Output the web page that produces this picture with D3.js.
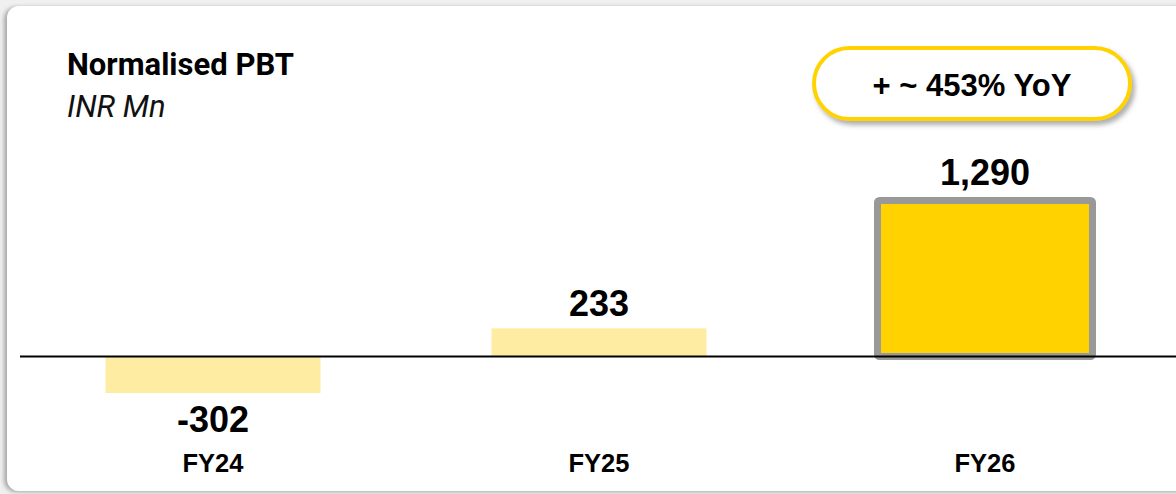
<!DOCTYPE html>
<html>
<head>
<meta charset="utf-8">
<script src="https://cdn.jsdelivr.net/npm/d3@7"></script>
<style>
  body { margin: 0; background: #f0f0f0; }
  svg { display: block; }
</style>
</head>
<body>
<div id="chart"></div>
<script>
// data
var categories = ["FY24", "FY25", "FY26"];
var values = [-302, 233, 1290];
var title = "Normalised PBT";
var unit = "INR Mn";
var badgeText = "+ ~ 453% YoY";

// size of the svg
var W = 1176, H = 494;

var svg = d3.select('#chart')
    .append('svg')
    .attr('width', W)
    .attr('height', H);

var defs = svg.append('defs');

// card shadow
var f1 = defs.append('filter').attr('id', 'cardShadow')
    .attr('x', '-5%').attr('y', '-5%').attr('width', '110%').attr('height', '110%');
f1.append('feDropShadow')
    .attr('dx', -3).attr('dy', 1)
    .attr('stdDeviation', 2)
    .attr('flood-color', '#888')
    .attr('flood-opacity', 0.7);

// badge shadow
var f2 = defs.append('filter').attr('id', 'badgeShadow')
    .attr('x', '-10%').attr('y', '-20%').attr('width', '125%').attr('height', '150%');
f2.append('feDropShadow')
    .attr('dx', 3).attr('dy', 4)
    .attr('stdDeviation', 2.5)
    .attr('flood-color', '#777')
    .attr('flood-opacity', 0.6);

// background + card
svg.append('rect')
    .attr('width', W).attr('height', H)
    .attr('fill', '#f0f0f0');

svg.append('rect')
    .attr('x', 7).attr('y', 6)
    .attr('width', W + 20).attr('height', 485)
    .attr('rx', 12)
    .attr('fill', '#fff')
    .attr('filter', 'url(#cardShadow)');

// title
svg.append('text')
    .attr('x', 67).attr('y', 75)
    .style('font-family', 'Roboto, sans-serif')
    .style('font-weight', 'bold')
    .style('font-size', '31px')
    .attr('fill', '#000')
    .text(title);

svg.append('text')
    .attr('x', 67).attr('y', 117)
    .style('font-family', 'Roboto, sans-serif')
    .style('font-style', 'italic')
    .style('font-size', '31px')
    .attr('fill', '#111')
    .text(unit);

// scales
var xScale = d3.scaleBand()
    .domain(categories)
    .range([20, 1178])
    .paddingInner(0.443)
    .paddingOuter(0.2215);

// zero sits at 356.5, 1290 at 200.5
var yScale = d3.scaleLinear()
    .domain([0, 1290])
    .range([356.5, 200.5]);

var data = categories.map(function (c, i) {
    return { cat: c, value: values[i], last: i === categories.length - 1 };
});

var strokeW = 7;
var fmt = function (v) { return d3.format(",")(v).replace("\u2212", "-"); };

// bars
svg.append('g').selectAll('rect')
    .data(data)
    .enter()
    .append('rect')
    .attr('x', function (d) { return xScale(d.cat); })
    .attr('width', xScale.bandwidth())
    .attr('y', function (d) { return Math.min(yScale(d.value), yScale(0)); })
    .attr('height', function (d) { return Math.abs(yScale(d.value) - yScale(0)); })
    .attr('rx', function (d) { return d.last ? 2 : 0; })
    .attr('fill', function (d) { return d.last ? '#ffd200' : '#ffeca3'; })
    .attr('stroke', function (d) { return d.last ? '#999999' : 'none'; })
    .attr('stroke-width', strokeW);

// zero line
svg.append('line')
    .attr('x1', 20).attr('x2', W)
    .attr('y1', yScale(0)).attr('y2', yScale(0))
    .attr('stroke', '#000')
    .attr('stroke-width', 2);

// value labels
svg.append('g').selectAll('text')
    .data(data)
    .enter()
    .append('text')
    .attr('x', function (d) { return xScale(d.cat) + xScale.bandwidth() / 2; })
    .attr('y', function (d) {
        if (d.value < 0) return yScale(d.value) + 39;
        return yScale(d.value) - 12 - (d.last ? strokeW / 2 : 0);
    })
    .attr('text-anchor', 'middle')
    .style('font-family', '"Liberation Sans", Arial, sans-serif')
    .style('font-weight', 'bold')
    .style('font-size', '36px')
    .attr('fill', '#000')
    .text(function (d) { return fmt(d.value); });

// category labels
svg.append('g').selectAll('text')
    .data(categories)
    .enter()
    .append('text')
    .attr('x', function (d) { return xScale(d) + xScale.bandwidth() / 2; })
    .attr('y', 472)
    .attr('text-anchor', 'middle')
    .style('font-family', '"Liberation Sans", Arial, sans-serif')
    .style('font-weight', 'bold')
    .style('font-size', '25.5px')
    .attr('fill', '#000')
    .text(function (d) { return d; });

// YoY badge
var badge = svg.append('g');
badge.append('rect')
    .attr('x', 814).attr('y', 48)
    .attr('width', 316).attr('height', 71)
    .attr('rx', 35.5)
    .attr('fill', '#fff')
    .attr('stroke', '#ffd200')
    .attr('stroke-width', 4)
    .attr('filter', 'url(#badgeShadow)');
badge.append('text')
    .attr('x', 972).attr('y', 96)
    .attr('text-anchor', 'middle')
    .style('font-family', '"Liberation Sans", Arial, sans-serif')
    .style('font-weight', 'bold')
    .style('font-size', '31px')
    .attr('fill', '#000')
    .text(badgeText);
</script>
</body>
</html>
